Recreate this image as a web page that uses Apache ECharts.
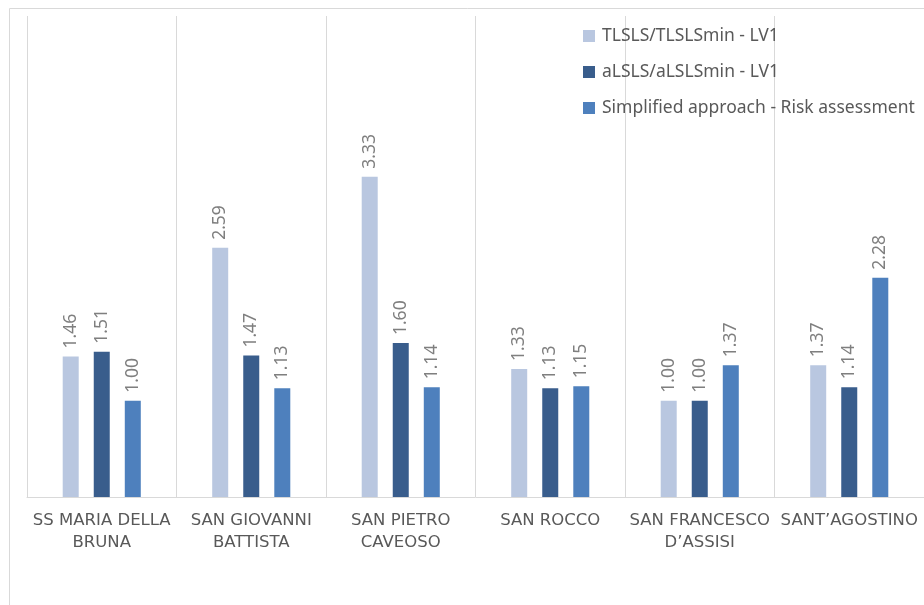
<!DOCTYPE html>
<html>
<head>
<meta charset="utf-8">
<script src="https://cdn.jsdelivr.net/npm/echarts@6/dist/echarts.min.js"></script>
<style>html,body{margin:0;padding:0;background:#fff}#c{width:924px;height:605px}</style>
</head>
<body>
<div id="c"></div>
<script>
const categories = ["SS MARIA DELLA\nBRUNA", "SAN GIOVANNI\nBATTISTA", "SAN PIETRO\nCAVEOSO", "SAN ROCCO", "SAN FRANCESCO\nD\u2019ASSISI", "SANT\u2019AGOSTINO"];
const seriesNames = ["TLSLS/TLSLSmin - LV1", "aLSLS/aLSLSmin - LV1", "Simplified approach - Risk assessment"];
const tlsls = [1.46, 2.59, 3.33, 1.33, 1.00, 1.37];
const alsls = [1.51, 1.47, 1.60, 1.13, 1.00, 1.14];
const simplified = [1.00, 1.13, 1.14, 1.15, 1.37, 2.28];
const colors = ["#b9c7e0", "#395d8c", "#4e80bd"];

const chart = echarts.init(document.getElementById('c'), null, {renderer: 'canvas'});
const labelCfg = {
  show: true, position: 'top', rotate: 90, align: 'left', verticalAlign: 'middle',
  distance: 8, color: '#7f7f7f', fontSize: 17.5, fontFamily: 'Noto Sans',
  formatter: p => p.value.toFixed(2)
};
function mk(name, data, color) {
  return { name, type: 'bar', data, barWidth: 16, barGap: '94%', itemStyle: { color }, label: labelCfg };
}
chart.setOption({
  animation: false,
  graphic: [{ type: 'rect', shape: { x: 9.5, y: 8.5, width: 1000, height: 1000 }, style: { fill: null, stroke: '#d9d9d9', lineWidth: 1 }, silent: true }],
  legend: {
    orient: 'vertical', left: 578, top: 21, itemWidth: 12, itemHeight: 12, itemGap: 16,
    icon: 'rect', textStyle: { color: '#595959', fontSize: 17.5, lineHeight: 20, padding: [0, 0, 0, 2], fontFamily: 'Noto Sans' },
    data: seriesNames
  },
  grid: { left: 27, top: 16, width: 900, height: 481 },
  xAxis: {
    type: 'category', data: categories,
    axisLine: { lineStyle: { color: '#d9d9d9', width: 1 } },
    axisTick: { show: false },
    splitLine: { show: true, lineStyle: { color: '#d9d9d9', width: 1 } },
    axisLabel: { color: '#595959', fontSize: 16.5, fontFamily: 'DejaVu Sans', margin: 13, lineHeight: 22, interval: 0 }
  },
  yAxis: { type: 'value', min: 0, max: 5, show: false, splitLine: { show: false } },
  series: [mk(seriesNames[0], tlsls, colors[0]), mk(seriesNames[1], alsls, colors[1]), mk(seriesNames[2], simplified, colors[2])]
});
</script>
</body>
</html>
